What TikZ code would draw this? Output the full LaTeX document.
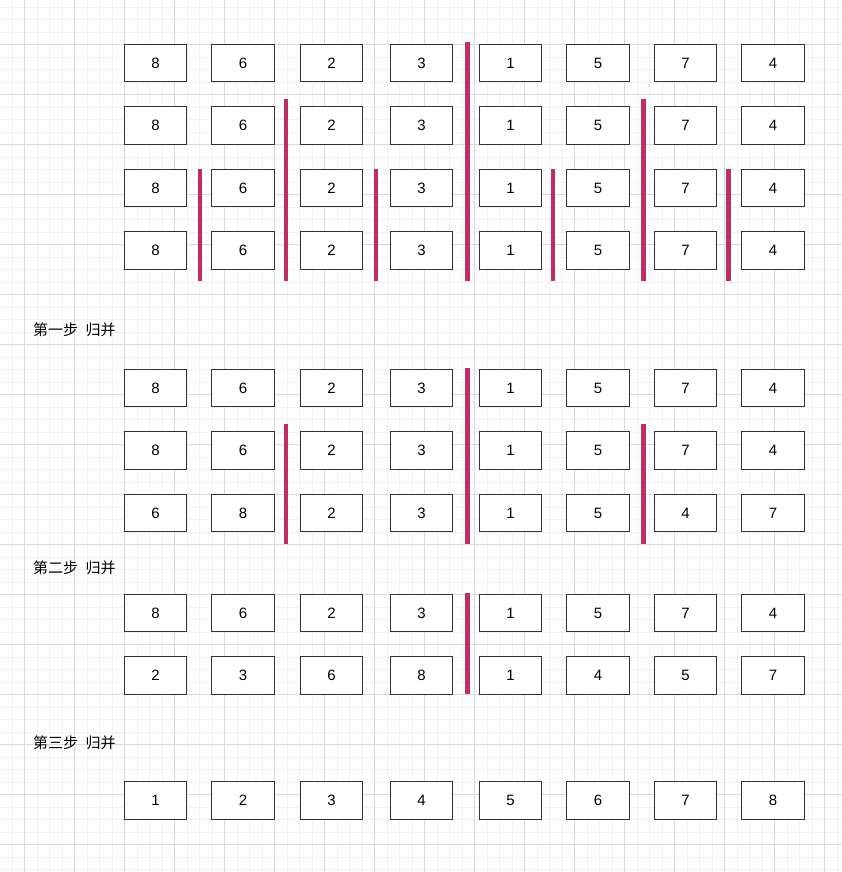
\documentclass[tikz,border=0pt]{standalone}
\usepackage{fontspec}
\setmainfont{Liberation Sans}
\newfontfamily\cjk{Noto Sans CJK SC}
\usepackage{tikz}
\definecolor{cutcolor}{RGB}{190,45,100}
\definecolor{gridmajor}{RGB}{218,218,218}
\definecolor{gridminor}{RGB}{242,242,242}

\begin{document}
\begin{tikzpicture}[x=1pt,y=-1pt,
  %%Configuration
  cell/.style={draw=black!80, line width=1.2pt, fill=white,
    minimum width=62.5pt, minimum height=37.5pt, inner sep=0pt,
    font=\fontsize{15}{18}\selectfont},
  cut/.style={draw=cutcolor, line width=4.5pt},
  stage/.style={anchor=west, inner sep=0pt,
    font=\cjk\fontsize{15}{18}\selectfont},
  thin grid/.style={draw=gridminor, line width=0.8pt},
  thick grid/.style={draw=gridmajor, line width=0.8pt}
  ]
  \useasboundingbox[fill=white] (0,0) rectangle (842,872);

  %%Grid
  \foreach \gx in {12,24.5,...,842} \draw[thin grid] (\gx,0) -- (\gx,872);
  \foreach \gy in {7,19.5,...,872} \draw[thin grid] (0,\gy) -- (842,\gy);
  \foreach \gx in {24.5,74.5,...,842} \draw[thick grid] (\gx,0) -- (\gx,872);
  \foreach \gy in {44.5,94.5,...,872} \draw[thick grid] (0,\gy) -- (842,\gy);

  %%Cells
  \foreach \row/\yy/\vals in {
      a1/63/{8,6,2,3,1,5,7,4},
      a2/125.5/{8,6,2,3,1,5,7,4},
      a3/188/{8,6,2,3,1,5,7,4},
      a4/250.5/{8,6,2,3,1,5,7,4},
      b1/388/{8,6,2,3,1,5,7,4},
      b2/450.5/{8,6,2,3,1,5,7,4},
      b3/513/{6,8,2,3,1,5,4,7},
      c1/613/{8,6,2,3,1,5,7,4},
      c2/675.5/{2,3,6,8,1,4,5,7},
      d1/800.5/{1,2,3,4,5,6,7,8}}
    \foreach \v [count=\c] in \vals {
      \pgfmathsetmacro\xx{{155.5,243,331.5,421.5,510.5,598,685.5,773}[\c-1]}
      \node[cell] (\row c\c) at (\xx,\yy) {\v};
    }

  %%Labels
  \node[stage] (stage1) at (33,330) {第一步\hspace{7.5pt}归并};
  \node[stage] (stage2) at (33,568) {第二步\hspace{7.5pt}归并};
  \node[stage] (stage3) at (33,743) {第三步\hspace{7.5pt}归并};

  %%Cuts
  \draw[cut] (467.5,42) -- (467.5,281);
  \draw[cut] (286,99) -- (286,281);
  \draw[cut] (643.3,99) -- (643.3,281);
  \foreach \cx in {200,376,553,728.5}
    \draw[cut] (\cx,169) -- (\cx,281);

  \draw[cut] (467.5,368) -- (467.5,543.5);
  \draw[cut] (286,424) -- (286,543.5);
  \draw[cut] (643.3,424) -- (643.3,543.5);

  \draw[cut] (467.5,592.5) -- (467.5,693.5);
\end{tikzpicture}
\end{document}
